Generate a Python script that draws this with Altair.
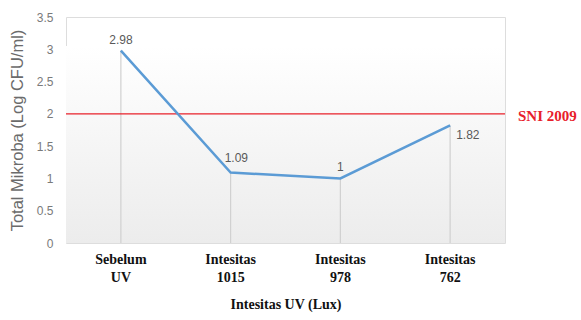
import altair as alt
import pandas as pd

# Total microbe counts per UV treatment
categories = ["Sebelum\nUV", "Intesitas\n1015", "Intesitas\n978", "Intesitas\n762"]
values = [2.98, 1.09, 1.0, 1.82]
y_ticks = [0, 0.5, 1, 1.5, 2, 2.5, 3, 3.5]
sni_limit = 2.0
sni_label = "SNI 2009"

df = pd.DataFrame({"kategori": categories, "nilai": values, "nol": [0] * len(values)})

W, H = 439, 226
x_enc = alt.X("kategori:N", sort=categories, scale=alt.Scale(paddingInner=0, paddingOuter=0),
              axis=alt.Axis(title="Intesitas UV (Lux)", labelExpr="split(datum.label, '\\n')",
                            labelAngle=0, labelFont="Liberation Serif", labelFontWeight="bold",
                            labelFontSize=14, labelColor="#111111", labelPadding=9,
                            labelLineHeight=18, domain=False, ticks=False,
                            titleFont="Liberation Serif", titleFontWeight="bold", titleFontSize=14,
                            titleColor="#111111", titlePadding=13))
y_scale = alt.Scale(domain=[0, 3.5], nice=False)
y_axis = alt.Axis(title="Total Mikroba (Log CFU/ml)", values=y_ticks,
                  labelExpr="'' + datum.value", labelOverlap=False, labelBound=False,
                  labelFont="Liberation Sans", labelFontSize=12,
                  labelColor="#7a7a7a", labelPadding=13, domain=False, ticks=False,
                  grid=False, titleFont="Liberation Sans", titleFontSize=16.5,
                  titleFontWeight="normal", titleColor="#6b6b6b", titlePadding=11)


def yq(field):
    return alt.Y(field, type="quantitative", scale=y_scale, axis=y_axis)


base = alt.Chart(df)

# Gradient plot-area background up to just above 3
bg = alt.Chart(pd.DataFrame({"atas": [3.05], "bawah": [0]})).mark_rect(
    fill=alt.Gradient(gradient="linear", x1=0, y1=0, x2=0, y2=1,
                      stops=[alt.GradientStop(color="#ffffff", offset=0),
                             alt.GradientStop(color="#ececec", offset=1)])
).encode(x=alt.value(0), x2=alt.value(W), y=yq("atas"), y2="bawah:Q")

drops = base.mark_rule(color="#d0d0d0", strokeWidth=1.2).encode(x=x_enc, y=yq("nilai"), y2="nol:Q")

line = base.mark_line(color="#5b9bd5", strokeWidth=2.5).encode(x=x_enc, y=yq("nilai"))

sni = alt.Chart(pd.DataFrame({"sni": [sni_limit]})).mark_rule(color="#e8202a", strokeWidth=1.3).encode(
    y=yq("sni"), x=alt.value(0), x2=alt.value(W))

sni_text = alt.Chart(pd.DataFrame({"sni": [sni_limit], "t": [sni_label]})).mark_text(
    font="Liberation Serif", fontWeight="bold", fontSize=15, color="#e8202a", align="left", dx=13, dy=2
).encode(y=yq("sni"), x=alt.value(W), text="t:N")

txt_style = dict(font="Liberation Sans", fontSize=12, color="#595959")
lbl_above = base.transform_filter(
    alt.FieldOneOfPredicate(field="kategori", oneOf=[categories[0], categories[2]])
).mark_text(baseline="bottom", dy=-4, **txt_style).encode(x=x_enc, y=yq("nilai"), text="nilai:Q")
lbl_second = base.transform_filter(
    alt.FieldEqualPredicate(field="kategori", equal=categories[1])
).mark_text(baseline="bottom", align="left", dx=-6, dy=-8, **txt_style).encode(x=x_enc, y=yq("nilai"), text="nilai:Q")
lbl_last = base.transform_filter(
    alt.FieldEqualPredicate(field="kategori", equal=categories[3])
).mark_text(baseline="middle", align="left", dx=6, dy=10, **txt_style).encode(x=x_enc, y=yq("nilai"), text="nilai:Q")

chart = alt.layer(bg, drops, sni, line, sni_text, lbl_above, lbl_second, lbl_last).properties(
    width=W, height=H,
    autosize=alt.AutoSizeParams(type="none"),
    padding={"left": 66, "top": 17, "right": 76, "bottom": 77},
).configure_view(stroke=None).configure(background="white")

chart.save("out.html", embed_options={"renderer": "svg", "actions": False})
